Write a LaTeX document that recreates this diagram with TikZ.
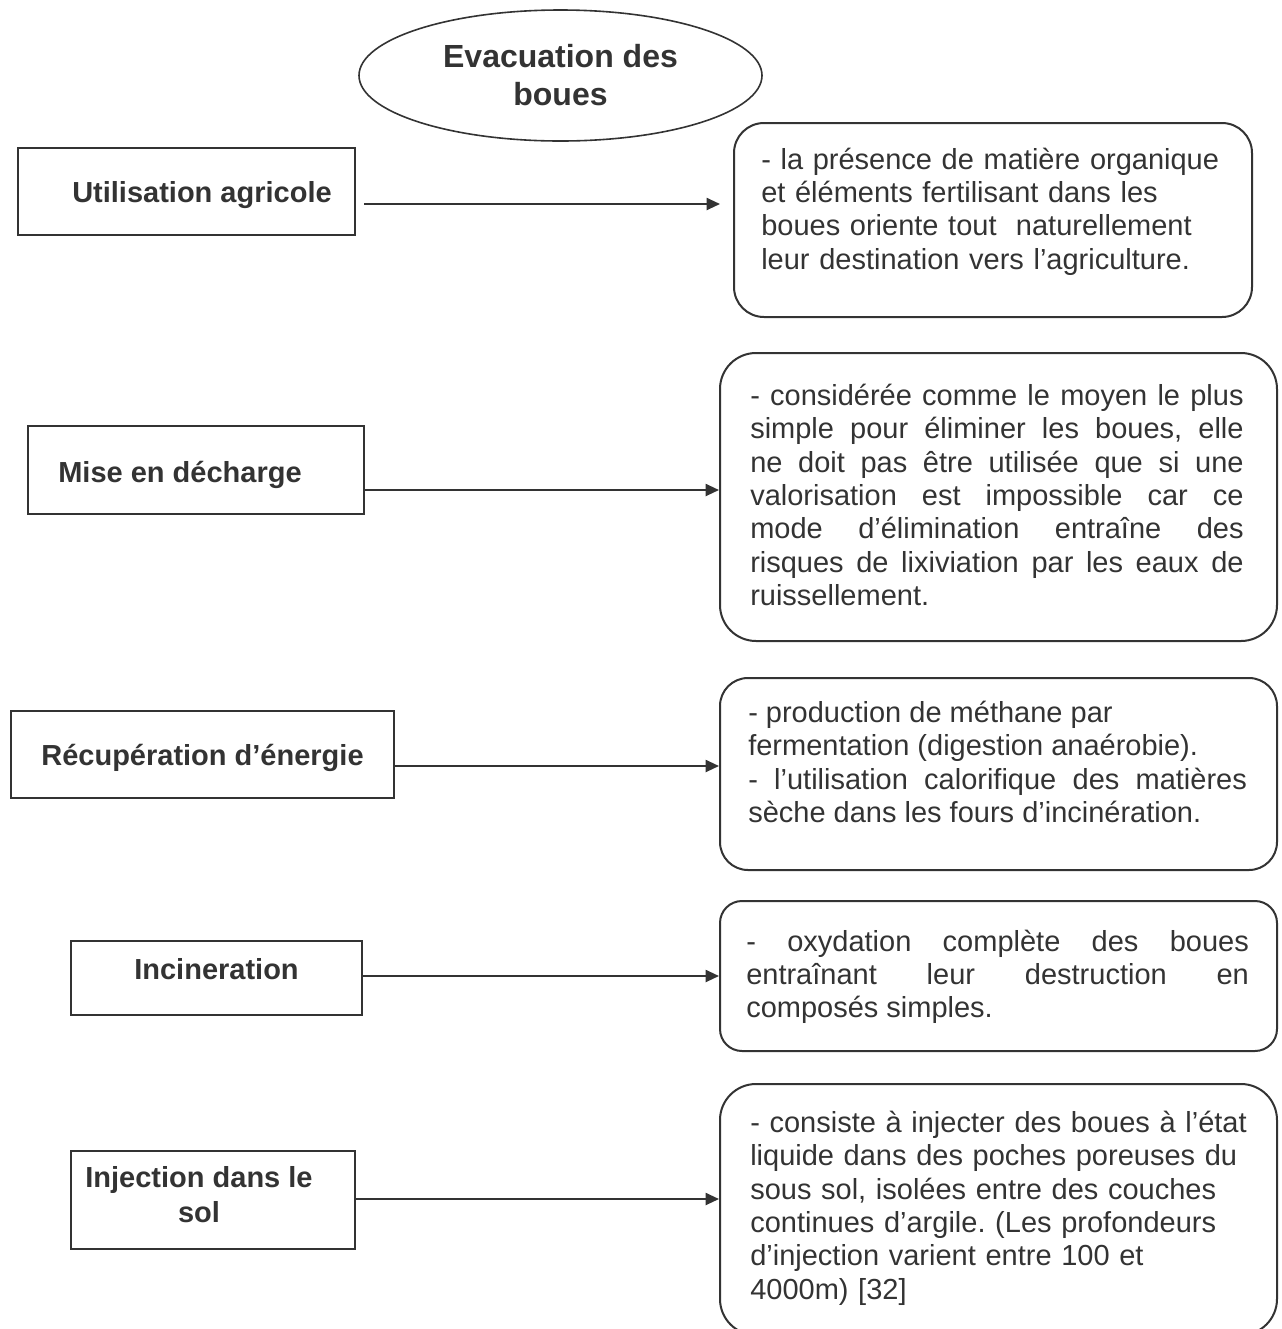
\documentclass[tikz,border=0pt]{standalone}
\usepackage{fontspec}
\setmainfont{Liberation Sans}
\usetikzlibrary{arrows.meta, positioning, shapes.geometric}
\definecolor{ink}{HTML}{333333}
\hyphenpenalty=10000
\frenchspacing

\begin{document}
\begin{tikzpicture}[
    x=0.75pt, y=-0.75pt,
    >={Triangle[length=10pt, width=9pt]},
    frame/.style={draw=ink, line width=1.5pt, inner sep=0pt, anchor=north west},
    note/.style={frame, rounded corners=#1},
    head/.style={font=\fontsize{21.75}{26.25}\selectfont\bfseries, text=ink,
      inner sep=0pt, align=center},
    body/.style={font=\fontsize{21.75}{25}\selectfont, text=ink,
      inner sep=0pt, anchor=base west, text width=#1},
    link/.style={draw=ink, line width=1.5pt, ->}
  ]
  \useasboundingbox (0,0) rectangle (1282,1329);
  \clip (0,0) rectangle (1282,1329);

  \node[ellipse, draw=ink, line width=1.2pt, minimum width=302.25pt, minimum height=98.25pt,
    inner sep=0pt, align=center, text=ink, font=\fontsize{24}{28.5}\selectfont\bfseries]
    (ev) at (560.5,75.5) {Evacuation des\\boues};

  % modes d'evacuation
  \node[frame, minimum width=252.75pt, minimum height=65.25pt] (u1) at (17,147) {};
  \node[frame, minimum width=252pt, minimum height=66pt] (u2) at (27,425) {};
  \node[frame, minimum width=287.25pt, minimum height=65.25pt] (u3) at (10,710) {};
  \node[frame, minimum width=218.25pt, minimum height=55.5pt] (u4) at (70,940) {};
  \node[frame, minimum width=213pt, minimum height=73.5pt] (u5) at (70,1150) {};

  \node[head, anchor=base] (u1t) at ([shift={(15.5,10.5)}]u1.center) {Utilisation agricole};
  \node[head, anchor=base] (u2t) at ([shift={(-16,12)}]u2.center) {Mise en décharge};
  \node[head, anchor=base] (u3t) at ([shift={(0,10.5)}]u3.center) {Récupération d’énergie};
  \node[head, anchor=base] (u4t) at ([shift={(0,1)}]u4.center) {Incineration};
  \node[head] (u5t) at ([shift={(-14,-5)}]u5.center) {Injection dans le\\sol};

  % descriptions
  \node[note=22.5pt, minimum width=388.5pt, minimum height=145.5pt] (r1) at (733,122) {};
  \node[note=27pt, minimum width=417.75pt, minimum height=216pt] (r2) at (719,352) {};
  \node[note=21pt, minimum width=417.75pt, minimum height=144pt] (r3) at (719,677) {};
  \node[note=16.5pt, minimum width=417.75pt, minimum height=112.5pt] (r4) at (719,900) {};
  \node[note=27pt, minimum width=417.75pt, minimum height=188.25pt] (r5) at (719,1083) {};

  \node[body=380pt, align=left] (r1t) at ([shift={(28,47)}]r1.north west)
    {- la présence de matière organique\\
     et éléments fertilisant dans les\\
     boues oriente tout~ naturellement\\
     leur destination vers l’agriculture.};
  \node[body=370pt, align=justify] (r2t) at ([shift={(31,53.5)}]r2.north west)
    {- considérée comme le moyen le plus\linebreak
     simple pour éliminer les boues, elle\linebreak
     ne doit pas être utilisée que si une\linebreak
     valorisation est impossible car ce\linebreak
     mode d’élimination entraîne des\linebreak
     risques de lixiviation par les eaux de\linebreak
     ruissellement.};
  \node[body=374pt, align=justify] (r3t) at ([shift={(29,45.5)}]r3.north west)
    {- production de méthane par\\
     fermentation (digestion anaérobie).\\
     - l’utilisation calorifique des matières\linebreak
     sèche dans les fours d’incinération.};
  \node[body=377pt, align=justify] (r4t) at ([shift={(27,51)}]r4.north west)
    {- oxydation complète des boues\linebreak
     entraînant leur destruction en\linebreak
     composés simples.};
  \node[body=380pt, align=left] (r5t) at ([shift={(31,49.5)}]r5.north west)
    {- consiste à injecter des boues à l’état\\
     liquide dans des poches poreuses du\\
     sous sol, isolées entre des couches\\
     continues d’argile. (Les profondeurs\\
     d’injection varient entre 100 et\\
     4000m) [32]};

  \coordinate (a1) at ([shift={(8,12.5)}]u1.east);
  \coordinate (a2) at ([shift={(0,20)}]u2.east);
  \coordinate (a3) at ([shift={(0,11.5)}]u3.east);
  \coordinate (a4) at ([shift={(0,-2)}]u4.east);
  \coordinate (a5) at ([shift={(0,-1)}]u5.east);

  \draw[link, shorten >=9.75pt] (a1) -- (a1 -| r1.west);
  \draw[link] (a2) -- (a2 -| r2.west);
  \draw[link] (a3) -- (a3 -| r3.west);
  \draw[link] (a4) -- (a4 -| r4.west);
  \draw[link] (a5) -- (a5 -| r5.west);
\end{tikzpicture}
\end{document}
